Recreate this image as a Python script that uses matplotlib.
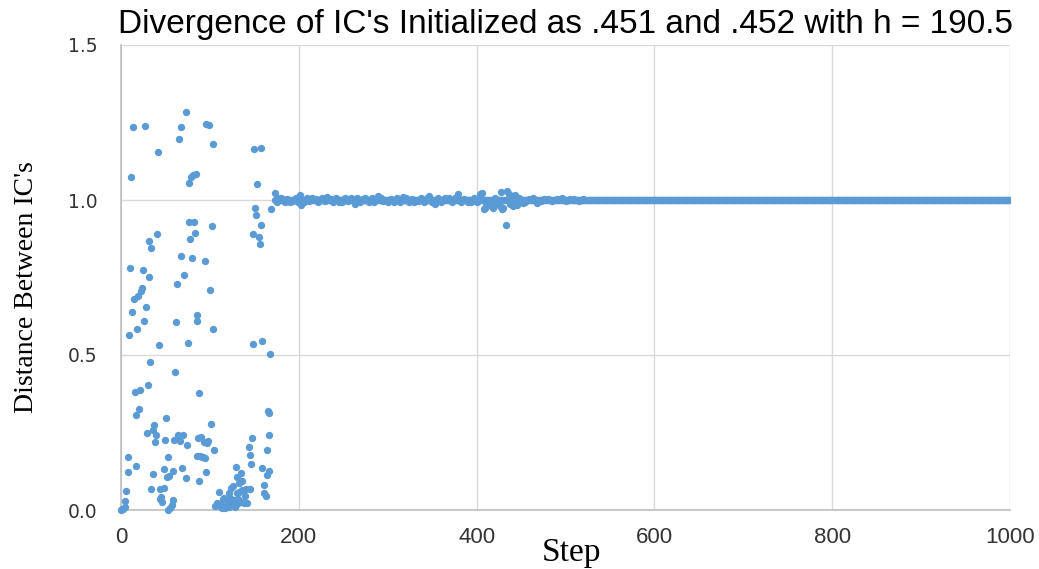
import numpy as np
import matplotlib
matplotlib.use("Agg")
import matplotlib.pyplot as plt

# ---- data ----
# chaotic transient (steps 0-172)
chaos_steps = [73, 14, 27, 68, 65, 42, 96, 99, 104, 150, 158, 11, 76, 79, 81, 84, 153,
               151, 152, 169, 157, 149, 155, 156, 77, 82, 102, 83, 78, 40, 31, 34, 67, 80, 94,
               10, 25, 32, 71, 63, 24, 22, 19, 15, 100, 28, 12, 85, 86, 26, 62, 18, 103, 9,
               43, 75, 148, 159, 168,
               33, 61, 30, 16, 21, 88, 20, 17, 166, 37, 36, 29, 39, 51, 101, 167, 64, 70,
               60, 66, 50, 38, 74, 87, 90, 93, 97, 98, 105, 147, 144, 164, 8, 53, 86, 91, 94,
               145, 146, 8, 17, 36, 48, 52, 54, 59, 69, 73, 88, 96, 129, 135, 130, 136, 133,
               159, 167, 164, 126, 124, 161, 6, 34, 44, 48, 136, 141, 145, 110, 121, 130,
               133, 161, 163, 140, 45, 44, 46, 58, 57, 55, 53, 5, 4, 2, 0, 1,
               115, 123, 127, 137, 138, 108, 111, 119, 125, 131, 106, 113, 117, 122, 134,
               142, 132, 116, 120, 118, 128, 112, 114, 109, 165, 92, 89]
chaos_vals = [1.284, 1.236, 1.240, 1.236, 1.198, 1.156, 1.246, 1.243, 1.182, 1.165, 1.169,
              1.075, 1.056, 1.075, 1.080, 1.083, 1.053,
              0.975, 0.953, 0.970, 0.920, 0.889, 0.881, 0.857, 0.928, 0.928, 0.915, 0.893,
              0.873, 0.889, 0.867, 0.844, 0.818, 0.812, 0.802, 0.780, 0.773, 0.751, 0.757,
              0.728, 0.715, 0.706, 0.690, 0.680, 0.709, 0.654, 0.638, 0.628, 0.610, 0.609,
              0.606, 0.583, 0.583, 0.564, 0.531, 0.538, 0.535, 0.544, 0.503,
              0.477, 0.445, 0.403, 0.381, 0.387, 0.377, 0.326, 0.306, 0.314, 0.275, 0.259,
              0.249, 0.243, 0.298, 0.278, 0.243, 0.242, 0.242, 0.227, 0.224, 0.227, 0.220,
              0.211, 0.233, 0.235, 0.220, 0.217, 0.224, 0.195, 0.233, 0.204, 0.195, 0.172,
              0.172, 0.174, 0.170, 0.168, 0.178, 0.150, 0.124, 0.143, 0.117, 0.133, 0.108,
              0.110, 0.127, 0.136, 0.104, 0.095, 0.124, 0.138, 0.120, 0.105, 0.095, 0.088,
              0.134, 0.127, 0.113, 0.077, 0.071, 0.081, 0.062, 0.069, 0.069, 0.072, 0.065,
              0.067, 0.067, 0.059, 0.054, 0.056, 0.059, 0.054, 0.046, 0.045, 0.041, 0.035,
              0.025, 0.032, 0.016, 0.005, 0.000, 0.030, 0.011, 0.004, 0.000, 0.002,
              0.035, 0.038, 0.032, 0.027, 0.022, 0.022, 0.016, 0.013, 0.016, 0.019, 0.013,
              0.009, 0.005, 0.009, 0.025, 0.024, 0.034, 0.039, 0.021, 0.013, 0.011, 0.016,
              0.005, 0.018, 0.320, 0.170, 0.175]

# settled regime: distance stays at 1.0 from step 173 to 1000
steady_start = 173
steady_end = 1000
steady_value = 1.0

# larger deviations around 1.0 in the settling band (steps 173-520)
band_steps = [173, 175, 180, 190, 201, 203, 215, 232, 245, 259, 263, 275, 289, 300, 317,
              330, 347, 353, 365, 379, 390, 404, 406, 408, 409, 413, 419, 423, 428, 429,
              430, 433, 434, 436, 441, 443, 445, 452, 464, 468, 480, 496, 510]
band_vals = [1.022, 0.995, 1.005, 0.993, 1.016, 0.984, 1.006, 1.011, 0.992, 1.008, 0.987,
             1.005, 1.013, 0.993, 1.011, 0.992, 1.013, 0.987, 1.006, 1.020, 0.993, 1.019,
             1.022, 0.970, 0.973, 0.984, 0.973, 0.989, 1.027, 0.971, 0.973, 0.920, 1.029,
             1.020, 0.980, 1.016, 0.984, 0.990, 1.005, 0.990, 1.003, 1.008, 1.003]

# small jitter in the settling band
jitter_steps = [178, 184, 187, 194, 197, 199, 206, 209, 212, 219, 222, 226, 229,
                236, 239, 242, 249, 252, 255, 266, 269, 272, 279, 282, 285, 292,
                295, 304, 307, 311, 314, 321, 324, 327, 334, 337, 341, 344, 350,
                357, 360, 369, 372, 376, 383, 386, 394, 397, 400, 411, 416, 421,
                426, 438, 448, 455, 459, 472, 476, 485, 490, 500, 505, 515, 520]
jitter_vals = [1.006, 0.994, 1.004, 0.996, 1.007, 0.993, 0.995, 1.005, 0.997, 1.004, 0.994, 1.006, 0.996,
               1.004, 0.993, 1.007, 0.995, 1.005, 0.996, 1.006, 0.994, 1.004, 0.995, 1.005, 0.993, 1.006,
               0.996, 1.004, 0.994, 1.006, 0.995, 1.005, 0.993, 1.004, 0.996, 1.007, 0.994, 1.005, 0.994,
               1.006, 0.995, 1.005, 0.994, 1.006, 0.995, 1.004, 0.993, 1.006, 0.995, 0.990, 0.985, 1.008,
               0.982, 0.988, 1.005, 0.995, 1.004, 0.996, 1.003, 0.997, 1.004, 0.997, 1.003, 0.998, 1.002]

title = "Divergence of IC's Initialized as .451 and .452 with h = 190.5"
xlabel = "Step"
ylabel = "Distance Between IC's"
xticks = [0, 200, 400, 600, 800, 1000]
yticks = [0.0, 0.5, 1.0, 1.5]
ytick_labels = ["0.0", "0.5", "1.0", "1.5"]

# ---- drawing ----
W, H = 1039, 569
fig = plt.figure(figsize=(W / 100, H / 100), dpi=100)
ax = fig.add_axes([121 / W, (H - 510) / H, (1010 - 121) / W, (510 - 45) / H])

blue = "#5B9BD5"
steady_x = np.arange(steady_start, steady_end + 1)
steady_y = np.full(steady_x.shape, steady_value)
ax.scatter(steady_x, steady_y, s=28, color=blue, linewidths=0, zorder=3)
ax.scatter(jitter_steps, jitter_vals, s=28, color=blue, linewidths=0, zorder=3)
ax.scatter(band_steps, band_vals, s=28, color=blue, linewidths=0, zorder=3)
ax.scatter(chaos_steps, chaos_vals, s=28, color=blue, linewidths=0, zorder=3, clip_on=False)

ax.set_xlim(0, 1000)
ax.set_ylim(0, 1.5)
ax.set_xticks(xticks)
ax.set_yticks(yticks)
ax.set_yticklabels(ytick_labels)
ax.grid(True, color="#D9D9D9", linewidth=1.0, zorder=0)
ax.set_axisbelow(True)
for s in ["top", "right"]:
    ax.spines[s].set_visible(False)
ax.spines["left"].set_color("#BFBFBF")
ax.spines["bottom"].set_color("#BFBFBF")
ax.spines["left"].set_linewidth(1.2)
ax.spines["bottom"].set_linewidth(1.2)
ax.tick_params(axis="both", length=0)
ax.tick_params(axis="x", pad=12, labelsize=16, labelcolor="#333333")
ax.tick_params(axis="y", pad=17, labelsize=13.5, labelcolor="#333333")
for lab in ax.get_xticklabels():
    lab.set_fontfamily(["Liberation Sans"])
for lab in ax.get_yticklabels():
    lab.set_fontfamily(["DejaVu Sans"])

fig.text(565 / W, 1 - 24 / H, title, ha="center", va="center", fontsize=24,
         family=["Liberation Sans"], color="#000000")
fig.text(571 / W, 1 - 553 / H, xlabel, ha="center", va="center", fontsize=24,
         family=["Liberation Serif"], color="#000000")
fig.text(27 / W, 1 - 287 / H, ylabel, ha="center", va="center", rotation=90,
         fontsize=20, family=["Liberation Serif"], color="#000000")

fig.savefig("out.png", dpi=100)
